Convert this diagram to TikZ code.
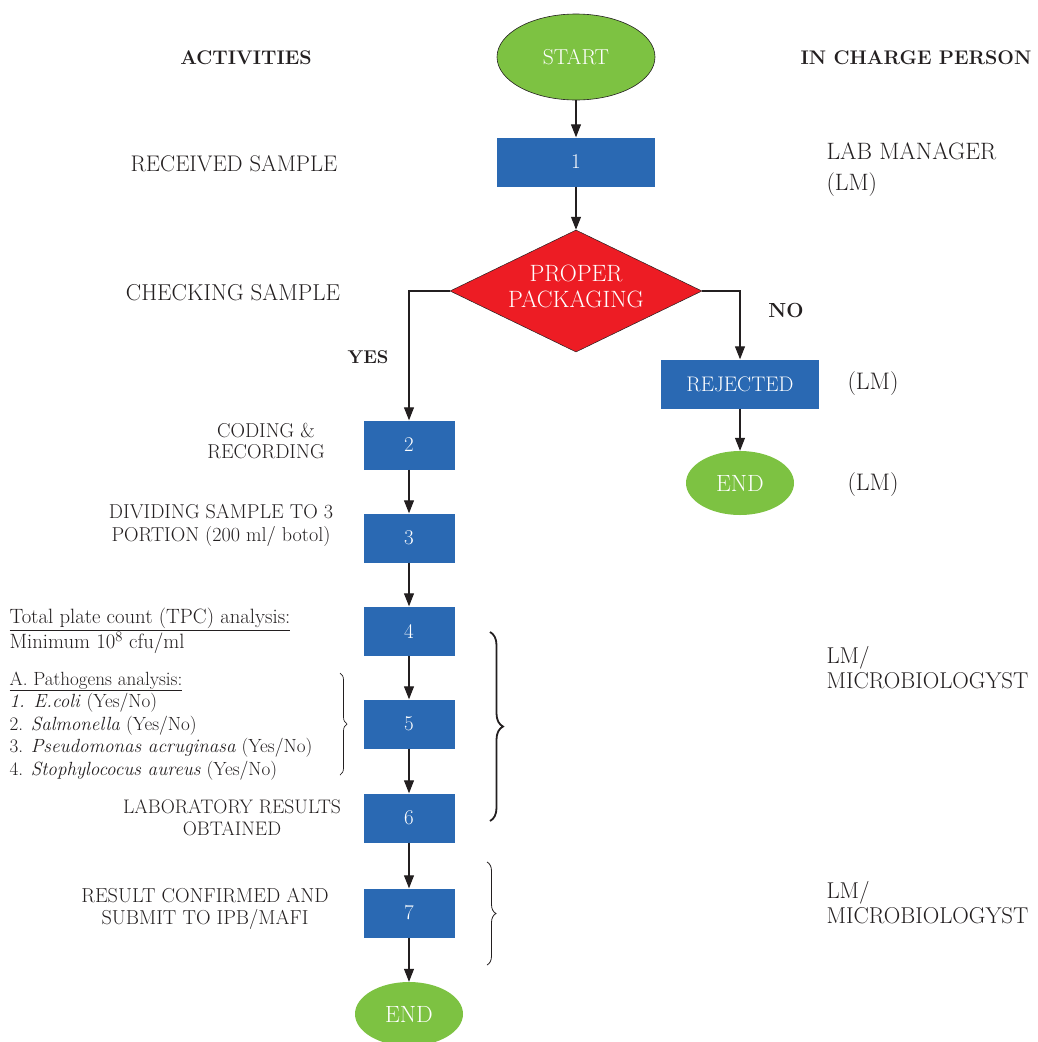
\documentclass[tikz,border=0pt]{standalone}
\usepackage{fontspec}
\usetikzlibrary{shapes.geometric,arrows.meta,decorations.pathreplacing}
\definecolor{boxblue}{HTML}{2A69B3}
\definecolor{termgreen}{HTML}{7DC242}
\definecolor{decred}{HTML}{ED1C24}
\definecolor{ink}{HTML}{231F20}
\newcommand\fsz[2]{\fontsize{#1}{#2}\selectfont}
\begin{document}
\begin{tikzpicture}[x=1pt,y=-1pt,
  every node/.style={font=\fsz{21}{24}, text=ink},
  proc/.style={fill=boxblue, text=white, minimum width=158pt, minimum height=49pt, inner sep=0pt},
  sproc/.style={proc, minimum width=91pt},
  term/.style={ellipse, fill=termgreen, text=white, inner sep=0pt},
  dec/.style={diamond, fill=decred, draw=ink, line width=0.5pt, text=white, inner sep=0pt, minimum width=252pt, minimum height=122pt, aspect=2.07, align=center},
  arr/.style={-{Triangle[length=13pt,width=10pt]}, line width=1.1pt, draw=ink},
  hd/.style={font=\fsz{19.7}{23}\bfseries},
  lbl/.style={align=center},
  lft/.style={align=left, anchor=west},
  brc/.style={decorate, decoration={brace, amplitude=7pt}, line width=1pt, draw=ink}
]
\useasboundingbox (0,0) rectangle (1038,1042);

% headers
\node[hd] (hact) at (246,58) {ACTIVITIES};
\node[hd] (hin) at (916,58) {IN CHARGE PERSON};

% flow nodes
\node[term, draw=ink, line width=0.6pt, minimum width=158pt, minimum height=86pt, font=\fsz{21.6}{24}] (start) at (576,57) {START};
\node[proc] (b1) at (576,162) {1};
\node[dec] (d) at (576,291) {};
\node[text=white, align=center, font=\fsz{23.6}{26}] (dt) at (576,286) {PROPER\\PACKAGING};
\node[proc, font=\fsz{21.1}{24}] (rej) at (740,384) {REJECTED};
\node[term, minimum width=108pt, minimum height=64pt, font=\fsz{23.5}{26}] (end1) at (740,483) {END};
\node[sproc] (b2) at (409,445) {2};
\node[sproc] (b3) at (409,538) {3};
\node[sproc] (b4) at (409,631) {4};
\node[sproc] (b5) at (409,724) {5};
\node[sproc] (b6) at (409,818) {6};
\node[sproc] (b7) at (409,913) {7};
\node[term, minimum width=108pt, minimum height=64pt, font=\fsz{23.5}{26}] (end2) at (409,1014) {END};

% connectors
\coordinate (cl) at (409,291);
\coordinate (cr) at (740,291);
\draw[arr] (start) -- (b1);
\draw[arr] (b1) -- (d);
\draw[arr] (d.west) -- (cl) -- (b2);
\draw[arr] (d.east) -- (cr) -- (rej);
\draw[arr] (rej) -- (end1);
\draw[arr] (b2) -- (b3);
\draw[arr] (b3) -- (b4);
\draw[arr] (b4) -- (b5);
\draw[arr] (b5) -- (b6);
\draw[arr] (b6) -- (b7);
\draw[arr] (b7) -- (end2);

% labels left
\node[font=\fsz{22.6}{26}] (l1) at (234,164) {RECEIVED SAMPLE};
\node[font=\fsz{23}{26}] (l2) at (233,293) {CHECKING SAMPLE};
\node[font=\fsz{18.5}{20}\bfseries] (yes) at (368,357) {YES};
\node[font=\fsz{20.4}{23}\bfseries] (no) at (786,310) {NO};
\node[lbl, font=\fsz{20.1}{21.5}] (l3) at (266,441) {CODING \&\\RECORDING};
\node[lbl, font=\fsz{20.1}{23}] (l4) at (221,525) {DIVIDING SAMPLE TO 3\\PORTION (200 ml/ botol)};
\node[lft, font=\fsz{20.7}{22}] (l5) at (6,631) {\underline{Total plate count (TPC) analysis:}\\Minimum 10\textsuperscript{8} cfu/ml};
\node[lft, font=\fsz{19.1}{22.5}] (l6) at (6,726) {\underline{A. Pathogens analysis:}\\\textit{1. E.coli} (Yes/No)\\2. \textit{Salmonella} (Yes/No)\\3. \textit{Pseudomonas acruginasa} (Yes/No)\\4. \textit{Stophylococus aureus} (Yes/No)};
\node[lbl, font=\fsz{19.6}{22}] (l7) at (232,818) {LABORATORY RESULTS\\OBTAINED};
\node[lbl, font=\fsz{20.2}{22}] (l8) at (205,909) {RESULT CONFIRMED AND\\SUBMIT TO IPB/MAFI};

% labels right
\node[lft, font=\fsz{23.7}{31}] (r1) at (823,170) {LAB MANAGER\\(LM)};
\node[font=\fsz{23.9}{26}] (r2) at (873,384) {(LM)};
\node[font=\fsz{23.9}{26}] (r3) at (873,485) {(LM)};
\node[lft, font=\fsz{22.9}{25}] (r4) at (823,668) {LM/\\MICROBIOLOGYST};
\node[lft, font=\fsz{22.9}{25}] (r5) at (823,903) {LM/\\MICROBIOLOGYST};

% braces
\coordinate (s1) at (340,673);
\coordinate (s2) at (340,775);
\draw[brc, line width=0.7pt, decoration={brace, amplitude=7pt}] (s1) -- (s2);
\coordinate (g1) at (490,632);
\coordinate (g2) at (490,821);
\draw[brc, line width=1.8pt, decoration={brace, amplitude=13pt}] (g1) -- (g2);
\coordinate (h1) at (487,862);
\coordinate (h2) at (487,965);
\draw[brc, line width=0.8pt, decoration={brace, amplitude=9pt}] (h1) -- (h2);
\end{tikzpicture}
\end{document}
